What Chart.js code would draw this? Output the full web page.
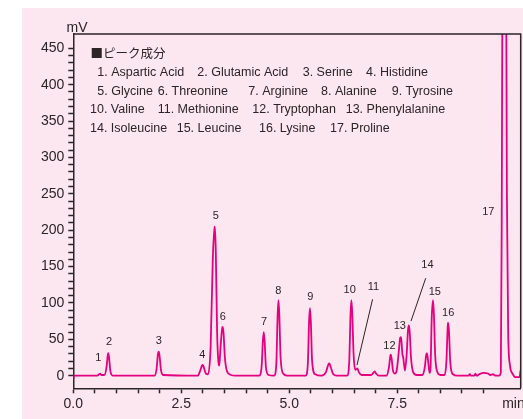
<!DOCTYPE html>
<html>
<head>
<meta charset="utf-8">
<script src="https://cdn.jsdelivr.net/npm/chart.js@4"></script>
<style>
  html, body { margin: 0; padding: 0; background: #fff; }
  #wrap { width: 523px; height: 419px; }
</style>
</head>
<body>
<div id="wrap"><canvas id="chromChart" width="523" height="419"></canvas></div>
<script>
// chromatogram trace (time in min, signal in mV)
const timeMin = [
  0.00, 0.02, 0.55, 0.60, 0.62, 0.65, 0.72, 0.77, 0.80, 0.81, 0.83, 0.86, 0.92,
  1.88, 1.93, 1.96, 1.98, 2.00, 2.03, 2.08,
  2.88, 2.94, 2.98, 3.00, 3.03, 3.07, 3.12, 3.18, 3.23, 3.27, 3.28, 3.30, 3.33, 3.37, 3.38,
  3.41, 3.45, 3.46, 3.48, 3.51, 3.56, 3.65, 3.75,
  4.30, 4.36, 4.39, 4.41, 4.43, 4.46, 4.52,
  4.65, 4.70, 4.73, 4.75, 4.77, 4.80, 4.86, 4.95,
  5.38, 5.43, 5.46, 5.48, 5.50, 5.53, 5.60,
  5.75, 5.85, 5.91, 5.93, 5.96, 6.02, 6.10,
  6.34, 6.39, 6.42, 6.44, 6.46, 6.49, 6.53, 6.56, 6.58, 6.61, 6.68,
  6.90, 6.96, 6.98, 7.01, 7.08,
  7.25, 7.31, 7.34, 7.35, 7.37, 7.40, 7.44, 7.48, 7.54, 7.57, 7.59, 7.62, 7.64, 7.68,
  7.72, 7.75, 7.77, 7.79, 7.82, 7.87, 7.95,
  8.08, 8.14, 8.17, 8.19, 8.22, 8.25, 8.27, 8.30, 8.33, 8.35, 8.38, 8.43, 8.50,
  8.60, 8.64, 8.67, 8.68, 8.70, 8.73, 8.79, 8.90,
  9.05, 9.15, 9.18, 9.21, 9.29, 9.31, 9.34, 9.40, 9.50, 9.60, 9.66, 9.72, 9.78, 9.86,
  9.90, 9.92, 9.94, 9.98, 10.02, 10.04, 10.07, 10.11, 10.17, 10.25, 10.33, 10.36
];
const signalMv = [
  -4, 0, 0, 2, 3, 1, 1, 12, 29, 31, 24, 6, 0,
  0, 10, 30, 33, 26, 8, 1,
  0, 7, 14, 15, 10, 3, 2, 40, 160, 203, 205, 170, 60, 15, 14,
  40, 66, 67, 58, 25, 6, 1, 0,
  0, 12, 48, 60, 48, 12, 1,
  0, 15, 80, 104, 85, 25, 3, 0,
  0, 15, 75, 93, 75, 20, 2,
  0, 5, 16, 17, 12, 2, 0,
  0, 20, 85, 104, 85, 30, 8, 9, 10, 5, 1,
  1, 5, 6, 3, 0,
  0, 12, 27, 29, 24, 8, 3, 5, 35, 52, 53, 30, 25, 7,
  30, 62, 69, 60, 25, 5, 1,
  1, 12, 28, 31, 18, 4, 8, 80, 104, 85, 28, 5, 1,
  1, 20, 68, 73, 60, 18, 2, 0,
  0, 0, 2, 0, 0, 3, 0, 2, 4, 3, 1, 2, 0, 0,
  5, 200, 600, 900, 600, 250, 60, 15, 3, -2, -2, 8
];

// peak numbers and where their labels sit (data units)
const peakNumbers = ['1', '2', '3', '4', '5', '6', '7', '8', '9', '10', '11', '12', '13', '14', '15', '16', '17'];
const peakLabelTime = [0.58, 0.83, 1.98, 2.99, 3.30, 3.46, 4.42, 4.75, 5.49, 6.40, 6.95, 7.32, 7.56, 8.20, 8.37, 8.68, 9.61];
const peakLabelMv = [24.5, 46.3, 47.7, 28.0, 220, 81.1, 73.8, 116.3, 108.5, 117.7, 122.2, 41.2, 68.8, 152.1, 115.5, 86.6, 224.6];

// leader lines for peaks 11 and 14: [t1, mV1, t2, mV2]
const leaderLines = [
  [6.93, 105, 6.57, 14.7],
  [8.16, 134, 7.82, 75]
];

const legendTitle = '■ピーク成分';
const legendRows = [
  ['1. Aspartic Acid', '2. Glutamic Acid', '3. Serine', '4. Histidine'],
  ['5. Glycine', '6. Threonine', '7. Arginine', '8. Alanine', '9. Tyrosine'],
  ['10. Valine', '11. Methionine', '12. Tryptophan', '13. Phenylalanine'],
  ['14. Isoleucine', '15. Leucine', '16. Lysine', '17. Proline']
];

const xLabelValues = [0, 2.5, 5, 7.5];
const xUnit = 'min';
const yUnit = 'mV';

const LINE = '#e4007f';
const INK = '#2b2526';
const PINK = '#fce6ef';
const FONT = '"Liberation Sans", Arial, sans-serif';

const points = timeMin.map((t, i) => ({ x: t, y: signalMv[i] }));

function isStep(v, step) {
  return Math.abs(v / step - Math.round(v / step)) < 1e-6;
}

const decorPlugin = {
  id: 'decor',
  beforeDraw(chart) {
    const c = chart.ctx;
    c.save();
    c.fillStyle = '#fff';
    c.fillRect(0, 0, chart.width, chart.height);
    c.fillStyle = PINK;
    c.fillRect(22, 8, chart.width - 22, chart.height - 8);
    c.restore();
  },
  afterDraw(chart) {
    const c = chart.ctx;
    const a = chart.chartArea;
    const xs = chart.scales.x;
    const ys = chart.scales.y;
    c.save();

    // top + right frame
    c.strokeStyle = INK;
    c.lineWidth = 1.5;
    c.beginPath();
    c.moveTo(a.left, a.top);
    c.lineTo(a.right, a.top);
    c.lineTo(a.right, a.bottom);
    c.stroke();

    // units
    c.fillStyle = INK;
    c.font = '14px ' + FONT;
    c.textBaseline = 'alphabetic';
    c.textAlign = 'center';
    c.fillText(yUnit, 77, 32);
    c.textAlign = 'left';
    c.fillText(xUnit, xs.getPixelForValue(10) - 3, 408);

    // peak labels
    c.font = '11px ' + FONT;
    c.textAlign = 'center';
    c.textBaseline = 'middle';
    peakNumbers.forEach((n, i) => {
      c.fillText(n, xs.getPixelForValue(peakLabelTime[i]), ys.getPixelForValue(peakLabelMv[i]));
    });

    // leader lines
    c.strokeStyle = INK;
    c.lineWidth = 1;
    leaderLines.forEach(l => {
      c.beginPath();
      c.moveTo(xs.getPixelForValue(l[0]), ys.getPixelForValue(l[1]));
      c.lineTo(xs.getPixelForValue(l[2]), ys.getPixelForValue(l[3]));
      c.stroke();
    });

    // legend block
    const rowX = [
      [97.3, 197.3, 302.7, 366],
      [97.3, 157.7, 248.3, 321, 391.7],
      [90, 157.7, 252.3, 345.7],
      [90, 176.7, 259, 330]
    ];
    const rowY = [72.7, 91.7, 110, 129];
    c.textAlign = 'left';
    c.textBaseline = 'middle';
    c.font = '12.5px "Noto Sans CJK JP", ' + FONT;
    c.fillText(legendTitle, 90.5, 53.3);
    c.font = '12.5px ' + FONT;
    legendRows.forEach((row, r) => {
      row.forEach((txt, k) => c.fillText(txt, rowX[r][k], rowY[r]));
    });

    c.restore();
  }
};

new Chart(document.getElementById('chromChart'), {
  type: 'line',
  data: {
    datasets: [{
      data: points,
      borderColor: LINE,
      borderWidth: 1.8,
      pointRadius: 0,
      fill: false,
      cubicInterpolationMode: 'monotone'
    }]
  },
  options: {
    responsive: false,
    animation: false,
    layout: { padding: { left: 0, top: 34, right: 2.3, bottom: 0 } },
    plugins: {
      legend: { display: false },
      tooltip: { enabled: false }
    },
    scales: {
      x: {
        type: 'linear',
        min: 0,
        max: 10.36,
        afterFit(s) { s.height = 30.7; },
        border: { display: true, color: INK, width: 1.5 },
        grid: {
          drawOnChartArea: false,
          drawTicks: true,
          tickLength: 5,
          tickWidth: 1.5,
          tickColor: ctx => (ctx.tick && isStep(ctx.tick.value, 0.5)) ? INK : 'rgba(0,0,0,0)'
        },
        ticks: {
          stepSize: 0.5,
          autoSkip: false,
          maxRotation: 0,
          padding: 2,
          color: INK,
          font: { family: FONT, size: 14 },
          callback: v => xLabelValues.some(x => Math.abs(x - v) < 1e-6) ? v.toFixed(1) : ''
        }
      },
      y: {
        min: -17.3,
        max: 469.6,
        afterFit(s) { s.width = 73.3; },
        border: { display: true, color: INK, width: 1.5 },
        grid: {
          drawOnChartArea: false,
          drawTicks: true,
          tickLength: 5,
          tickWidth: 1.5,
          tickColor: ctx => (ctx.tick && isStep(ctx.tick.value, 10)) ? INK : 'rgba(0,0,0,0)'
        },
        ticks: {
          stepSize: 10,
          autoSkip: false,
          padding: 4,
          color: INK,
          font: { family: FONT, size: 14 },
          callback: v => isStep(v, 50) ? String(Math.round(v)) : ''
        }
      }
    }
  },
  plugins: [decorPlugin]
});
</script>
</body>
</html>
